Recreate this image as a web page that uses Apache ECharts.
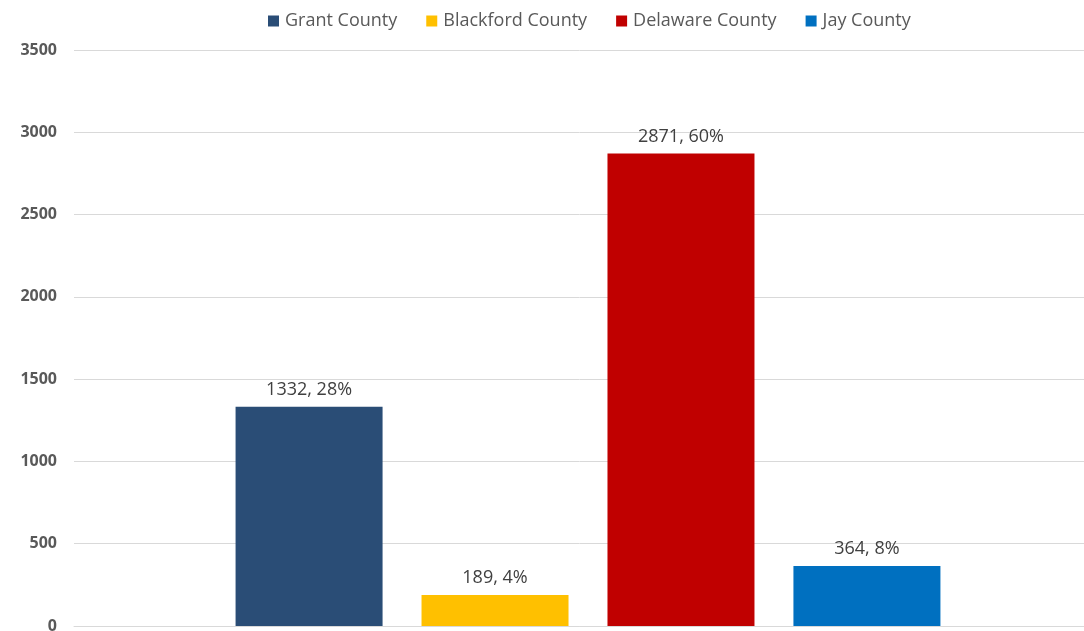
<!DOCTYPE html>
<html>
<head>
<meta charset="utf-8">
<script src="https://cdn.jsdelivr.net/npm/echarts@6/dist/echarts.min.js"></script>
<style>html,body{margin:0;padding:0;background:#fff;overflow:hidden;}#c{width:1084px;height:631px;}</style>
</head>
<body>
<div id="c"></div>
<script>
var seriesNames = ['Grant County', 'Blackford County', 'Delaware County', 'Jay County'];
var seriesValues = [1332, 189, 2871, 364];
var seriesPercents = ['28%', '4%', '60%', '8%'];
var seriesColors = ['#2A4D76', '#FFC000', '#C00000', '#0070C0'];
var categories = [''];

var chart = echarts.init(document.getElementById('c'));
var series = seriesNames.map(function (n, i) {
  return {
    name: n,
    type: 'bar',
    data: [seriesValues[i]],
    barWidth: 147,
    barGap: '26.5%',
    itemStyle: { color: seriesColors[i] },
    label: {
      show: true,
      position: 'top',
      distance: 8,
      color: '#404040',
      fontSize: 18,
      fontFamily: 'Open Sans',
      formatter: function (p) { return p.value + ', ' + seriesPercents[i]; }
    }
  };
});
chart.setOption({
  animation: false,
  legend: {
    top: 7,
    left: 263,
    itemWidth: 11,
    itemHeight: 11,
    itemGap: 29,
    icon: 'rect',
    textStyle: { color: '#595959', fontSize: 18, fontFamily: 'Open Sans', padding: [0, 0, 0, 1] }
  },
  grid: { left: 74, right: -18, top: 50, bottom: 5, containLabel: false, outerBoundsMode: 'none' },
  xAxis: {
    type: 'category',
    data: categories,
    axisLine: { show: true, lineStyle: { color: '#D9D9D9', width: 1 } },
    axisTick: { show: false },
    axisLabel: { show: false }
  },
  yAxis: {
    type: 'value',
    min: 0, max: 3500, interval: 500,
    axisLine: { show: false },
    axisTick: { show: false },
    splitLine: { lineStyle: { color: '#D9D9D9', width: 1 } },
    axisLabel: { color: '#595959', fontSize: 16, fontWeight: 'bold', fontFamily: 'Open Sans', margin: 17,
      formatter: function (v) { return String(v); } }
  },
  series: series
});
</script>
</body>
</html>
